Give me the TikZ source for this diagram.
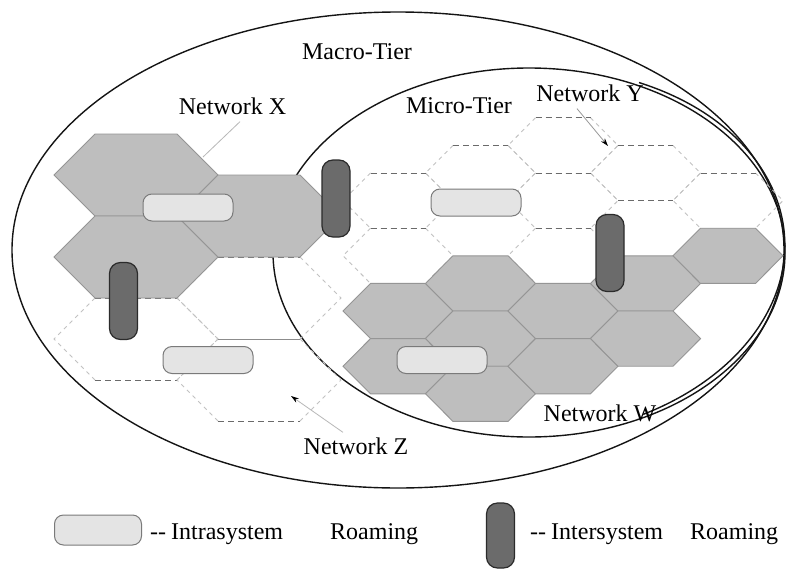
\documentclass[tikz,border=0pt]{standalone}
\usepackage{fontspec}
\setmainfont{Liberation Serif}
\usetikzlibrary{arrows.meta}
\definecolor{hexfill}{HTML}{BEBEBE}
\definecolor{hexedge}{HTML}{959595}
\definecolor{lightfill}{HTML}{E4E4E4}
\definecolor{lightedge}{HTML}{7A7A7A}
\definecolor{darkfill}{HTML}{6B6B6B}
\definecolor{darkedge}{HTML}{2B2B2B}
\definecolor{dashh}{HTML}{6A6A6A}
\definecolor{dashd}{HTML}{C2C2C2}
\begin{document}
\begin{tikzpicture}[x=1pt,y=-1pt,
  tier/.style={draw=black!92,line width=1.4pt},
  cellsolid/.style={fill=hexfill,draw=hexedge,line width=0.9pt},
  edgeh/.style={draw=dashh,line width=1pt,dash pattern=on 6pt off 4pt},
  edged/.style={draw=dashd,line width=0.9pt,dash pattern=on 4pt off 4pt},
  lightpill/.style={draw=lightedge,fill=lightfill,line width=1pt,rounded corners=9pt,minimum width=90pt,minimum height=27pt,inner sep=0pt},
  darkpill/.style={draw=darkedge,fill=darkfill,line width=1.2pt,rounded corners=11pt,minimum width=28pt,minimum height=77pt,inner sep=0pt},
  lbl/.style={inner sep=0pt,font=\fontsize{24}{28}\selectfont},
  leader/.style={draw=black!28,line width=0.8pt},
  pointer/.style={draw=black!40,line width=0.8pt,-{Stealth[black,length=8pt,width=5pt]}},
]
\useasboundingbox (0,0) rectangle (789,570);
\fill[white] (0,0) rectangle (789,570);

% tiers
\draw[tier] (398,250) ellipse [x radius=386pt, y radius=238pt];
\draw[tier] (529,252.5) ellipse [x radius=256pt, y radius=184.5pt];
\begin{scope}[rotate around={3.5:(529,252.5)}]
  \draw[tier] ([shift={(62:256pt and 184.5pt)}]529,252.5) arc[start angle=62,end angle=-66,x radius=256pt,y radius=184.5pt];
\end{scope}

% Network Z (dashed, large cells)
\foreach \cx/\cy in {136/339,259/298,259/380} {
  \draw[edged] (\cx-41,\cy-41) -- (\cx-82,\cy) -- (\cx-41,\cy+41);
  \draw[edged] (\cx+41,\cy-41) -- (\cx+82,\cy) -- (\cx+41,\cy+41);
  \draw[edgeh] (\cx-41,\cy-41) -- (\cx+41,\cy-41);
  \draw[edgeh] (\cx-41,\cy+41) -- (\cx+41,\cy+41);
}
\draw[draw=black!45,line width=0.9pt] (218,339) -- (300,339);

% Network Y (dashed, small cells)
\foreach \cx/\cy in {398/200.6,398/255.8,480.5/173,563/145.4,563/200.6,563/255.8,645.5/173,728/200.6} {
  \draw[edged] (\cx-27.5,\cy-27.6) -- (\cx-55,\cy) -- (\cx-27.5,\cy+27.6);
  \draw[edged] (\cx+27.5,\cy-27.6) -- (\cx+55,\cy) -- (\cx+27.5,\cy+27.6);
  \draw[edgeh] (\cx-27.5,\cy-27.6) -- (\cx+27.5,\cy-27.6);
  \draw[edgeh] (\cx-27.5,\cy+27.6) -- (\cx+27.5,\cy+27.6);
}

% Network X (solid, large cells)
\foreach \cx/\cy in {136/175,136/257,259/216}
  \filldraw[cellsolid] (\cx-82,\cy) -- (\cx-41,\cy-41) -- (\cx+41,\cy-41) -- (\cx+82,\cy) -- (\cx+41,\cy+41) -- (\cx-41,\cy+41) -- cycle;

% Network W (solid, small cells)
\foreach \cx/\cy in {398/311,398/366.2,480.5/283.4,480.5/338.6,480.5/393.8,563/311,563/366.2,645.5/283.4,645.5/338.6,728/255.8}
  \filldraw[cellsolid] (\cx-55,\cy) -- (\cx-27.5,\cy-27.6) -- (\cx+27.5,\cy-27.6) -- (\cx+55,\cy) -- (\cx+27.5,\cy+27.6) -- (\cx-27.5,\cy+27.6) -- cycle;

% roaming markers
\node[lightpill] (rx) at (188,207.5) {};
\node[lightpill] (ry) at (476,202.5) {};
\node[lightpill] (rz) at (208,360) {};
\node[lightpill] (rw) at (442,360) {};
\node[darkpill] (dxy) at (336,198.5) {};
\node[darkpill] (dxz) at (123.5,301) {};
\node[darkpill] (dyw) at (610,253) {};

% labels
\node[lbl] (macro) at (357,52) {Macro-Tier};
\node[lbl] (micro) at (459,106) {Micro-Tier};
\node[lbl] (nx) at (232.5,106) {Network X};
\node[lbl] (ny) at (590,93) {Network Y};
\node[lbl] (nw) at (600,413) {Network W};
\node[lbl] (nz) at (356,446) {Network Z};

\coordinate (xend) at (203,157);
\coordinate (yend) at (608,146);
\coordinate (zend) at (291,396);
\draw[leader] ([xshift=7.5pt,yshift=-7pt]nx.south) -- (xend);
\draw[pointer] ([xshift=-13pt,yshift=-7pt]ny.south) -- (yend);
\draw[pointer,draw=black!28] ([xshift=-13pt,yshift=5pt]nz.north) -- (zend);

% legend
\node[lightpill,minimum width=87pt,minimum height=30pt] (lgl) at (98,530) {};
\node[lbl,anchor=base west] (lgt1) at (150,539) {-{}-\hspace{5pt}Intrasystem};
\node[lbl,anchor=base west] (lgt2) at (330,539) {Roaming};
\node[darkpill,minimum height=65pt] (lgd) at (500.5,535.5) {};
\node[lbl,anchor=base west] (lgt3) at (530,539) {-{}-\hspace{5pt}Intersystem};
\node[lbl,anchor=base west] (lgt4) at (690,539) {Roaming};
\end{tikzpicture}
\end{document}
